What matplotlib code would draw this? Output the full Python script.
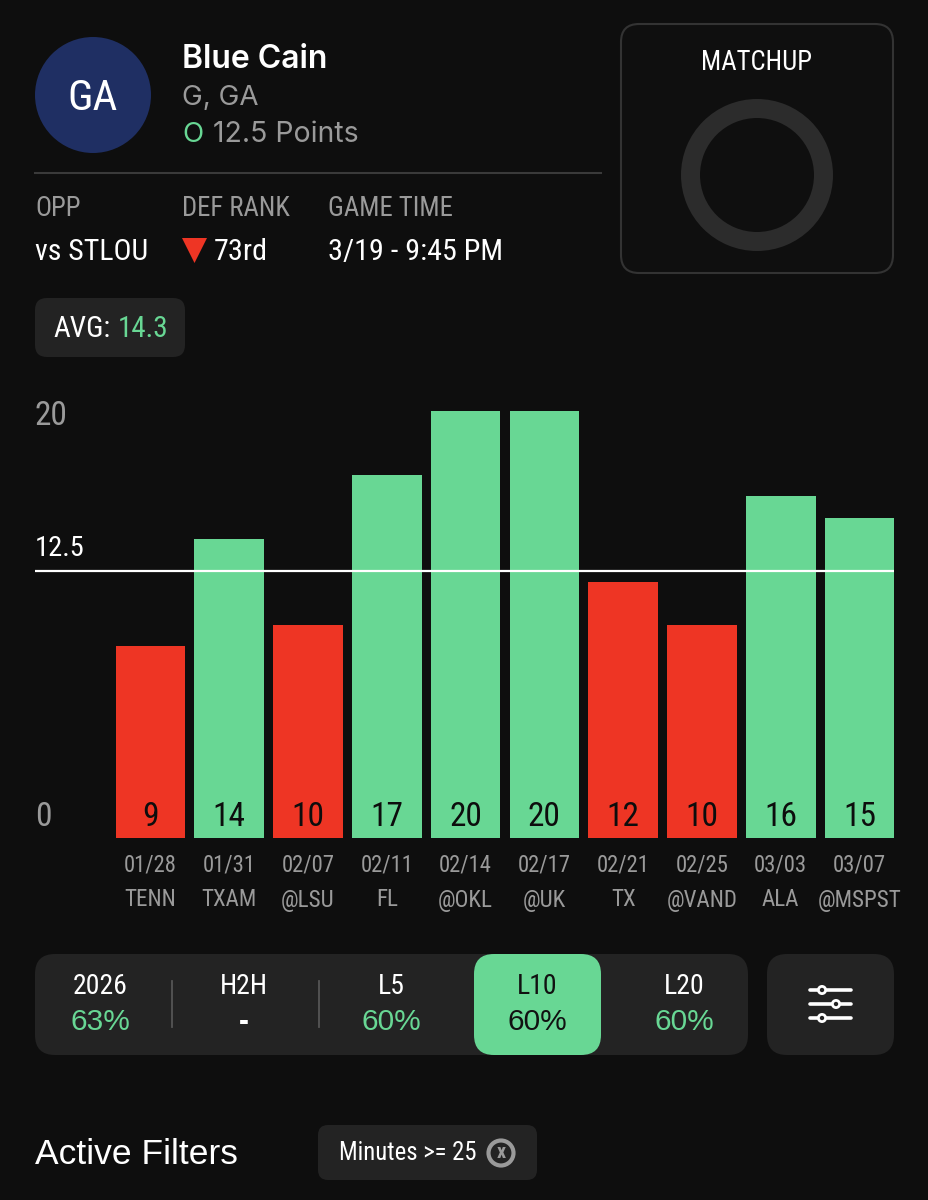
import matplotlib
matplotlib.use("Agg")
import matplotlib.pyplot as plt
from matplotlib.patches import Circle, FancyBboxPatch, Polygon, Wedge

dates = ["01/28", "01/31", "02/07", "02/11", "02/14", "02/17", "02/21", "02/25", "03/03", "03/07"]
opps = ["TENN", "TXAM", "@LSU", "FL", "@OKL", "@UK", "TX", "@VAND", "ALA", "@MSPST"]
points = [9, 14, 10, 17, 20, 20, 12, 10, 16, 15]
line_value = 12.5
y_ticks = [0, 12.5, 20]

seg_names = ["2026", "H2H", "L5", "L10", "L20"]
seg_pcts = ["63%", "-", "60%", "60%", "60%"]

BG = "#0e0e0e"
PANEL = "#232323"
GREEN = "#68d794"
RED = "#ee3524"
GREY = "#9a9a9a"
NARROW = ["Roboto Condensed", "Archivo Narrow", "Liberation Sans", "DejaVu Sans"]
WIDE = ["Inter", "DejaVu Sans"]
W, H = 929, 1200

fig = plt.figure(figsize=(W / 100, H / 100), dpi=100, facecolor=BG)

# layer in pixels for all the app chrome
ui = fig.add_axes([0, 0, 1, 1], zorder=3)
ui.set_xlim(0, W)
ui.set_ylim(H, 0)
ui.axis("off")
ui.patch.set_alpha(0)

back = fig.add_axes([0, 0, 1, 1], zorder=1)
back.set_xlim(0, W)
back.set_ylim(H, 0)
back.axis("off")


def box(x0, y0, x1, y1, r, color, edge="none", lw=0):
    back.add_patch(FancyBboxPatch((x0 + r, y0 + r), x1 - x0 - 2 * r, y1 - y0 - 2 * r,
                                  boxstyle=f"round,pad={r},rounding_size={r}",
                                  fc=color, ec=edge, lw=lw))


def label(x, y, s, size, color="white", ha="left", family=NARROW, weight="normal"):
    return ui.text(x, y, s, fontsize=size, color=color, ha=ha, va="center",
                   family=family, fontweight=weight)


# header
back.add_patch(Circle((93, 95), 58, fc="#1f2f63", ec="none"))
label(93, 98, "GA", 31, ha="center")
label(182, 59, "Blue Cain", 23, family=WIDE, weight="semibold")
label(182, 98, "G, GA", 20, GREY, family=WIDE)
label(182, 135, "O", 20, GREEN, family=WIDE)
label(213, 135, "12.5 Points", 20.5, GREY, family=WIDE)
back.plot([35, 601], [173, 173], color="#3a3a3a", lw=1.5)

label(35, 209, "OPP", 19.3, GREY)
label(182, 209, "DEF RANK", 19.3, GREY)
label(328, 209, "GAME TIME", 19.3, GREY)
label(35, 252, "vs STLOU", 21.5, "white")
back.add_patch(Polygon([(182, 238), (207, 238), (194.5, 263)], fc=RED, ec="none"))
label(214, 252, "73rd", 21.7, "white")
label(328, 252, "3/19 - 9:45 PM", 21.7, "white")

# matchup card
box(621, 24, 893, 273, 18, "#0f0f0f", edge="#333333", lw=1.5)
label(757, 62, "MATCHUP", 19.3, ha="center")
back.add_patch(Wedge((757, 175), 76, 0, 360, width=19, fc="#2c2c2c", ec="none"))

# average pill
box(35, 298, 185, 357, 12, PANEL)
label(53, 329, "AVG:", 21)
label(118, 329, "14.3", 21, GREEN)

# y labels
label(35, 416, str(y_ticks[2]), 24, GREY)
label(35, 548, str(y_ticks[1]), 20.5, "white")
label(35, 817, str(y_ticks[0]), 24, GREY)

# bars
ax = fig.add_axes([35 / W, (H - 838) / H, (894 - 35) / W, (838 - 411) / H], zorder=2)
ax.patch.set_alpha(0)
ax.axis("off")
pitch = 78.78
ax.set_xlim((35 - 150.5) / pitch, (894 - 150.5) / pitch)
ax.set_ylim(0, 20)
xs = list(range(len(points)))
colors = [GREEN if p > line_value else RED for p in points]
ax.bar(xs, points, width=0.885, color=colors, clip_on=False)
ax.axhline(line_value, color="white", lw=1.6, zorder=5)

for i in xs:
    cx = 150.5 + pitch * i
    label(cx, 817, str(points[i]), 24, "#0d0d0d", ha="center")
    label(cx, 865, dates[i], 16.3, GREY, ha="center")
    label(cx, 900, opps[i], 16.6, GREY, ha="center")

# range selector
box(35, 954, 748, 1055, 20, PANEL)
box(474, 954, 601, 1055, 20, GREEN)
seg_x = [100.5, 244, 391, 537.5, 684]
for i in range(len(seg_names)):
    sel = seg_names[i] == "L10"
    label(seg_x[i], 987, seg_names[i], 20, "#111111" if sel else "white", ha="center")
    pct_col = "#111111" if sel else (GREEN if seg_pcts[i] != "-" else "white")
    label(seg_x[i], 1022, seg_pcts[i], 21.5, pct_col, ha="center",
          family=["Liberation Sans", "DejaVu Sans"], weight="bold" if seg_pcts[i] == "-" else "normal")
for x in [172, 319]:
    back.plot([x, x], [981, 1027], color="#555555", lw=1.3)

# settings button
box(767, 954, 894, 1055, 20, PANEL)
for y, kx in [(990, 822), (1004, 836), (1018, 822)]:
    back.plot([810, 851], [y, y], color="white", lw=2.6, solid_capstyle="round", zorder=3)
    back.add_patch(Circle((kx, y), 3.6, fc=PANEL, ec="white", lw=2, zorder=4))

# filters
label(35, 1155, "Active Filters", 25.5, family=["Liberation Sans", "DejaVu Sans"])
box(318, 1125, 537, 1180, 10, PANEL)
label(339, 1153, "Minutes >= 25", 17.8)
back.add_patch(Circle((501, 1153), 12.5, fc=PANEL, ec=GREY, lw=3))
label(501, 1152, "x", 14.5, GREY, ha="center", weight="bold")

fig.savefig("out.png", dpi=100, facecolor=BG)
